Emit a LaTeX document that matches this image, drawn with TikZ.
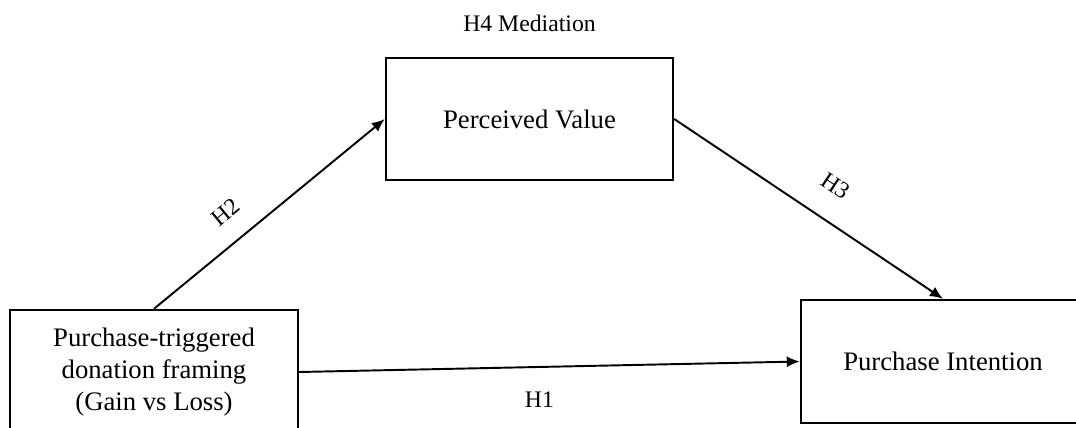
\documentclass[tikz,border=0pt]{standalone}
\usepackage{fontspec}
\setmainfont{Liberation Serif}
\usetikzlibrary{arrows.meta,positioning}

\tikzset{
  box/.style={draw, line width=1.4pt, minimum width=5.74cm, minimum height=2.44cm,
    align=center, font=\fontsize{15.2}{18.2}\selectfont},
  hyp/.style={font=\fontsize{13.5}{16}\selectfont, inner sep=#1},
}

\begin{document}
\begin{tikzpicture}[x=0.02cm,y=-0.02cm,>={Latex[length=0.26cm,width=0.22cm]},auto]
  \useasboundingbox (0,0) rectangle (1076,427);
  \node[box, minimum width=5.76cm, minimum height=2.48cm] (frame) at (154,372) {Purchase-triggered\\donation framing\\(Gain vs Loss)};
  \node[box] (pv) at (529.5,119) {Perceived Value};
  \node[box, minimum width=5.68cm, minimum height=2.46cm] (pi) at (943,361.5) {Purchase Intention};
  \node[hyp=0.333em] (med) [above=0.38cm of pv] {H4 Mediation};
  \path[->, line width=1.1pt]
    (frame.north) edge node[hyp=11.5pt, sloped, pos=0.39] {H2} (pv.west)
    (pv.east) edge node[hyp=14.5pt, sloped, pos=0.53] {H3} (pi.north)
    (frame.east) edge node[hyp=13.5pt, swap, pos=0.48] {H1} (pi.west);
\end{tikzpicture}
\end{document}
